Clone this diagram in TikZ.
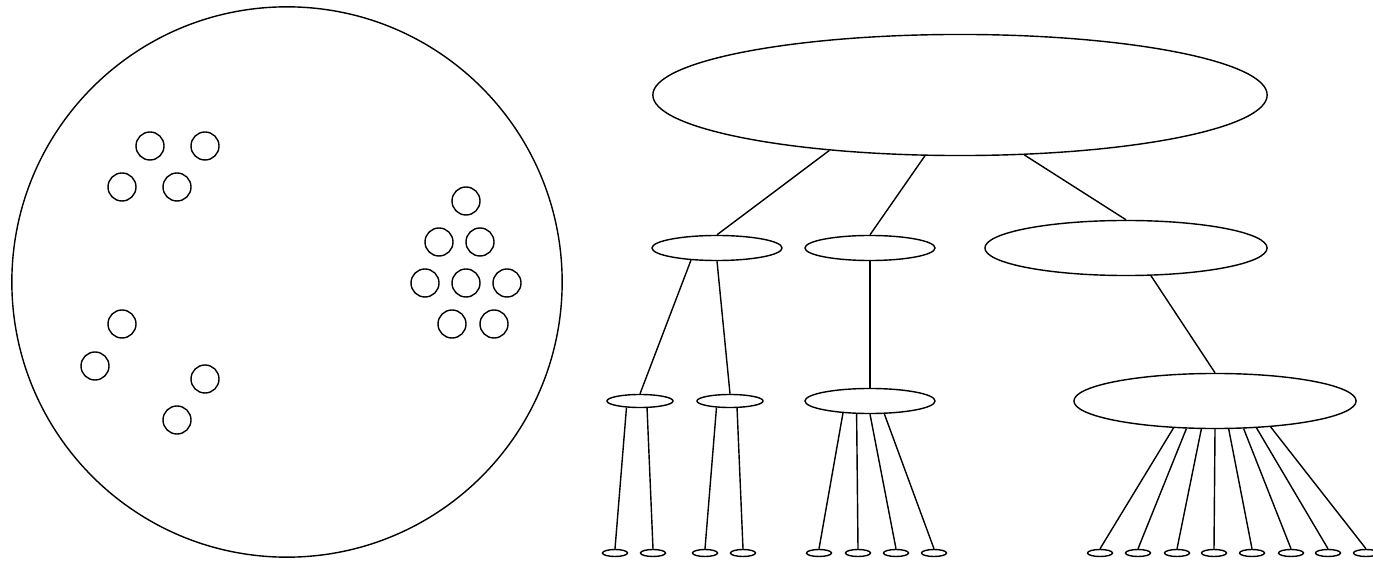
\documentclass[tikz,border=0pt]{standalone}
\usetikzlibrary{shapes.geometric}
\tikzset{
  node-region/.style={draw,thin,circle,minimum size=5.5cm,inner sep=0pt},
  node-cell/.style={draw,thin,circle,minimum size=0.28cm,inner sep=0pt},
  node-root/.style={draw,thin,ellipse,minimum width=6.14cm,minimum height=1.21cm,inner sep=0pt},
  node-wide/.style={draw,thin,ellipse,minimum width=2.82cm,minimum height=0.55cm,inner sep=0pt},
  node-mid/.style={draw,thin,ellipse,minimum width=1.3cm,minimum height=0.25cm,inner sep=0pt},
  node-small/.style={draw,thin,ellipse,minimum width=0.66cm,minimum height=0.13cm,inner sep=0pt},
  node-leaf/.style={draw,thin,ellipse,minimum width=0.25cm,minimum height=0.07cm,inner sep=0pt},
  link/.style={thin},
}
\begin{document}
\begin{tikzpicture}[x=0.01cm,y=-0.01cm]
  \clip (0,0) rectangle (1373,561);
  % points in the plane
  \node[node-region] (pool) at (287,282) {};
  \foreach \cx/\cy [count=\i] in {150/146,205/146,122/187,177/187,
      466/201,439/242,480/242,425/283,466/283,507/283,452/324,494/324,
      122/324,95/366,205/379,177/420}
    \node[node-cell] (c\i) at (\cx,\cy) {};
  % the tree
  \node[node-root] (root) at (960,95) {};
  \node[node-mid] (a) at (717,248) {};
  \node[node-mid] (b) at (870,248) {};
  \node[node-wide] (c) at (1126,248) {};
  \node[node-small] (a1) at (640,401) {};
  \node[node-small] (a2) at (730,401) {};
  \node[node-mid] (b1) at (870,401) {};
  \node[node-wide] (c1) at (1215,401) {};
  \foreach \lx [count=\i] in {615,653,705,743,819,858,896,934,
      1100,1138,1177,1214,1252,1291,1328,1366}
    \node[node-leaf] (l\i) at (\lx,553) {};
  \draw[link] (root.203) -- (a.north);
  \draw[link] (root.240) -- (b.north);
  \draw[link] (root.317) -- (c.north);
  \draw[link] (a.205) -- (a1.north);
  \draw[link] (a.south) -- (a2.north);
  \draw[link] (b.south) -- (b1.north);
  \draw[link] (c.312) -- (c1.north);
  \draw[link] (a1.206) -- (l1.north);
  \draw[link] (a1.315) -- (l2.north);
  \draw[link] (a2.206) -- (l3.north);
  \draw[link] (a2.315) -- (l4.north);
  \foreach \a/\i in {204/5,224/6,270/7,318/8}
    \draw[link] (b1.\a) -- (l\i.north);
  \foreach \a/\i in {213/9,224/10,244/11,270/12,296/13,316/14,327/15,335/16}
    \draw[link] (c1.\a) -- (l\i.north);
\end{tikzpicture}
\end{document}
